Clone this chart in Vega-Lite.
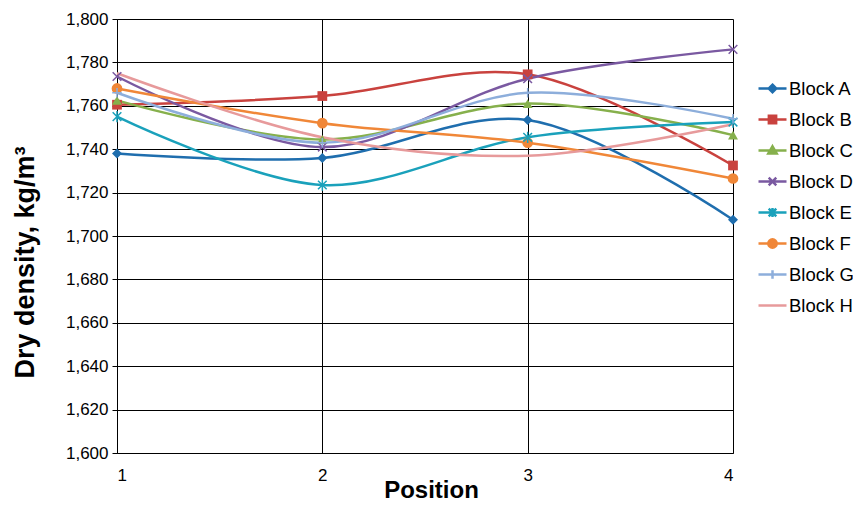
{
  "$schema": "https://vega.github.io/schema/vega-lite/v6.json",
  "width": 616,
  "height": 434,
  "autosize": "none",
  "padding": {"left": 117, "top": 19, "right": 120, "bottom": 52},
  "background": "white",
  "config": {"font": "Liberation Sans", "view": {"stroke": null}},
  "data": {
    "values": [
      {"block": "Block A", "position": 1, "density": 1738},
      {"block": "Block A", "position": 2, "density": 1736},
      {"block": "Block A", "position": 3, "density": 1753.5},
      {"block": "Block A", "position": 4, "density": 1707.5},
      {"block": "Block B", "position": 1, "density": 1760.5},
      {"block": "Block B", "position": 2, "density": 1764.5},
      {"block": "Block B", "position": 3, "density": 1774.5},
      {"block": "Block B", "position": 4, "density": 1732.5},
      {"block": "Block C", "position": 1, "density": 1762.5},
      {"block": "Block C", "position": 2, "density": 1744.5},
      {"block": "Block C", "position": 3, "density": 1761},
      {"block": "Block C", "position": 4, "density": 1746.5},
      {"block": "Block D", "position": 1, "density": 1773.5},
      {"block": "Block D", "position": 2, "density": 1741},
      {"block": "Block D", "position": 3, "density": 1772.5},
      {"block": "Block D", "position": 4, "density": 1786},
      {"block": "Block E", "position": 1, "density": 1755},
      {"block": "Block E", "position": 2, "density": 1723.5},
      {"block": "Block E", "position": 3, "density": 1745.5},
      {"block": "Block E", "position": 4, "density": 1752.5},
      {"block": "Block F", "position": 1, "density": 1768},
      {"block": "Block F", "position": 2, "density": 1752},
      {"block": "Block F", "position": 3, "density": 1743},
      {"block": "Block F", "position": 4, "density": 1726.5},
      {"block": "Block G", "position": 1, "density": 1766},
      {"block": "Block G", "position": 2, "density": 1743},
      {"block": "Block G", "position": 3, "density": 1766},
      {"block": "Block G", "position": 4, "density": 1754},
      {"block": "Block H", "position": 1, "density": 1775},
      {"block": "Block H", "position": 2, "density": 1745.5},
      {"block": "Block H", "position": 3, "density": 1737},
      {"block": "Block H", "position": 4, "density": 1751.5}
    ]
  },
  "encoding": {
    "x": {
      "field": "position", "type": "quantitative",
      "scale": {"domain": [1, 4], "nice": false, "zero": false},
      "axis": {
        "values": [1, 2, 3, 4], "format": "d", "title": "Position",
        "titleFontSize": 24, "titleFontWeight": "bold", "titleColor": "black", "titlePadding": -5, "titleX": 314,
        "labelFontSize": 17, "labelColor": "black", "labelPadding": 14,
        "grid": true, "gridColor": "black", "gridOpacity": 1, "gridWidth": 1,
        "domainColor": "black", "ticks": false
      }
    },
    "y": {
      "field": "density", "type": "quantitative",
      "scale": {"domain": [1600, 1800], "nice": false, "zero": false},
      "axis": {
        "values": [1600, 1620, 1640, 1660, 1680, 1700, 1720, 1740, 1760, 1780, 1800],
        "format": ",d", "title": "Dry density, kg/m³",
        "titleFontSize": 27, "titleFontWeight": "bold", "titleColor": "black", "titlePadding": 26, "titleY": 243,
        "labelFontSize": 17, "labelColor": "black", "labelPadding": 4,
        "grid": true, "gridColor": "black", "gridOpacity": 1, "gridWidth": 1,
        "domainColor": "black", "tickColor": "black", "tickSize": 5
      }
    },
    "color": {
      "field": "block", "type": "nominal",
      "scale": {
        "domain": ["Block A", "Block B", "Block C", "Block D", "Block E", "Block F", "Block G", "Block H"],
        "range": ["#1f6eae", "#c9423e", "#86b04c", "#7a59a1", "#1aa1bb", "#f08738", "#8daedb", "#e79a9b"]
      },
      "legend": {
        "title": null, "orient": "none", "legendX": 640, "legendY": 54, "padding": 0,
        "labelFontSize": 18.5, "labelColor": "black", "labelOffset": 1,
        "symbolSize": 784, "symbolStrokeWidth": 2.5, "symbolOpacity": 1, "rowPadding": 6
      }
    }
  },
  "layer": [
    {"mark": {"type": "line", "interpolate": "catmull-rom", "strokeWidth": 2.5}},
    {
      "transform": [{"filter": {"field": "block", "equal": "Block A"}}],
      "mark": {"type": "point", "shape": "diamond", "filled": true, "size": 100, "opacity": 1}
    },
    {
      "transform": [{"filter": {"field": "block", "equal": "Block B"}}],
      "mark": {"type": "point", "shape": "square", "filled": true, "size": 95, "opacity": 1}
    },
    {
      "transform": [{"filter": {"field": "block", "equal": "Block C"}}],
      "mark": {"type": "point", "shape": "triangle-up", "filled": true, "size": 100, "opacity": 1}
    },
    {
      "transform": [{"filter": {"field": "block", "equal": "Block F"}}],
      "mark": {"type": "point", "shape": "circle", "filled": true, "size": 115, "opacity": 1}
    },
    {
      "transform": [{"filter": {"field": "block", "equal": "Block D"}}],
      "mark": {"type": "point", "shape": "M-1,-1L1,1M-1,1L1,-1", "filled": false, "size": 75, "strokeWidth": 1.5, "opacity": 1}
    },
    {
      "transform": [{"filter": {"field": "block", "equal": "Block E"}}],
      "mark": {"type": "point", "shape": "M-1,-1L1,1M-1,1L1,-1M0,-1.3L0,1.3", "filled": false, "size": 75, "strokeWidth": 1.5, "opacity": 1}
    },
    {
      "transform": [{"filter": {"field": "block", "equal": "Block G"}}],
      "mark": {"type": "point", "shape": "M-1.1,0L1.1,0M0,-1.1L0,1.1", "filled": false, "size": 75, "strokeWidth": 1.5, "opacity": 1}
    },
    {
      "mark": {"type": "point", "filled": true, "size": 60, "strokeWidth": 2.5, "opacity": 0},
      "encoding": {
        "shape": {
          "field": "block", "type": "nominal", "legend": null,
          "scale": {
            "domain": ["Block A", "Block B", "Block C", "Block D", "Block E", "Block F", "Block G", "Block H"],
            "range": [
              "M-1,0L1,0M0,-0.27L0.27,0L0,0.27L-0.27,0Z",
              "M-1,0L1,0M-0.26,-0.26L0.26,-0.26L0.26,0.26L-0.26,0.26Z",
              "M-1,0L1,0M0,-0.3L0.3,0.22L-0.3,0.22Z",
              "M-1,0L1,0M-0.27,-0.27L0.27,0.27M-0.27,0.27L0.27,-0.27",
              "M-1,0L1,0M-0.27,-0.27L0.27,0.27M-0.27,0.27L0.27,-0.27M0,-0.32L0,0.32",
              "M-1,0L1,0M0.3,0A0.3,0.3,0,1,1,-0.3,0A0.3,0.3,0,1,1,0.3,0",
              "M-1,0L1,0M0,-0.3L0,0.3",
              "M-1,0L1,0"
            ]
          }
        }
      }
    }
  ]
}
